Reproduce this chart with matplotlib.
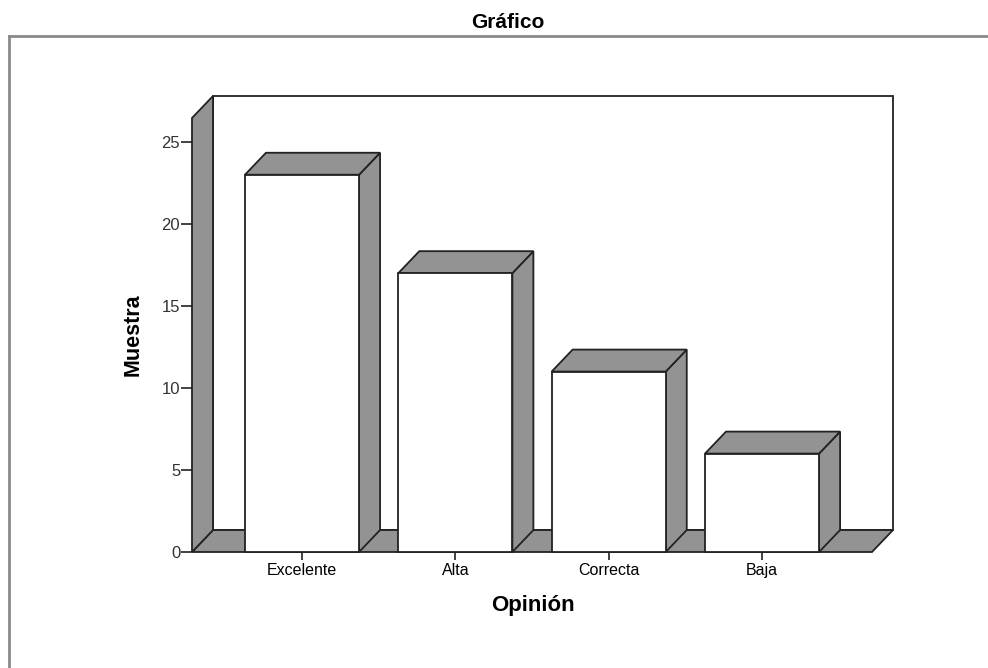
"""Bar chart of opinions drawn as SPSS-style 3D bars."""

import matplotlib
matplotlib.use("Agg")
import numpy as np
from matplotlib import pyplot as plt
from matplotlib.patches import Polygon, Rectangle
from matplotlib.lines import Line2D

categories = ["Excelente", "Alta", "Correcta", "Baja"]
counts = [23, 17, 11, 6]
y_ticks = [0, 5, 10, 15, 20, 25]

GRAY = "#939393"
EDGE = "#222222"
DX, DY = 0.137, 1.34       # depth offset of the 3D box, in data units
BAR_W = 0.744
WALL_TOP = 26.46

plt.rcParams["font.family"] = ["Liberation Sans", "DejaVu Sans"]

W, H = 988, 668
fig = plt.figure(figsize=(W / 100, H / 100), dpi=100)
ax = fig.add_axes([192 / W, 1 - 552 / H, 701 / W, 456 / H])
ax.set_xlim(-0.7174, 3.854)
ax.set_ylim(0, WALL_TOP + DY)
x0, x1 = -0.7174, 3.854 - DX


def poly(pts, face):
    ax.add_patch(Polygon(pts, closed=True, facecolor=face, edgecolor=EDGE,
                         linewidth=1.3, joinstyle="miter", clip_on=False))


# back wall, floor and left wall
poly([(x0 + DX, DY), (x1 + DX, DY), (x1 + DX, WALL_TOP + DY),
      (x0 + DX, WALL_TOP + DY)], "white")
poly([(x0, 0), (x1, 0), (x1 + DX, DY), (x0 + DX, DY)], GRAY)
poly([(x0, 0), (x0 + DX, DY), (x0 + DX, WALL_TOP + DY), (x0, WALL_TOP)], GRAY)

# bars
xs = np.arange(len(categories))
for x, v in zip(xs, counts):
    l, r = x - BAR_W / 2, x + BAR_W / 2
    poly([(r, 0), (r + DX, DY), (r + DX, v + DY), (r, v)], GRAY)
    poly([(l, v), (r, v), (r + DX, v + DY), (l + DX, v + DY)], GRAY)
    ax.add_patch(Rectangle((l, 0), BAR_W, v, facecolor="white",
                           edgecolor=EDGE, linewidth=1.3, clip_on=False))

for s in ax.spines.values():
    s.set_visible(False)
ax.patch.set_visible(False)

ax.set_xticks(xs)
ax.set_xticklabels(categories, fontsize=11.5)
ax.set_yticks(y_ticks)
ax.set_yticklabels([str(t) for t in y_ticks], fontsize=12, color="#333333")
ax.tick_params(axis="y", direction="out", length=8, width=1.2, color=EDGE, pad=0.5)
ax.tick_params(axis="x", direction="out", length=6, width=1.2, color=EDGE, pad=2)

fig.text(533 / W, 1 - 606 / H, "Opinión", ha="center", va="center",
         fontsize=16, fontweight="bold")
fig.text(133 / W, 1 - 335 / H, "Muestra", ha="center", va="center",
         rotation=90, fontsize=15.5, fontweight="bold")
fig.text(508 / W, 1 - 22 / H, "Gráfico", ha="center", va="center",
         fontsize=15, fontweight="bold")

# outer chart frame (open on the right and bottom)
fig.add_artist(Line2D([9 / W, 1], [1 - 36 / H] * 2, color="#8a8a8a", linewidth=2))
fig.add_artist(Line2D([9 / W] * 2, [0, 1 - 36 / H], color="#8a8a8a", linewidth=2))

fig.savefig("out.png", dpi=100, facecolor="white")
